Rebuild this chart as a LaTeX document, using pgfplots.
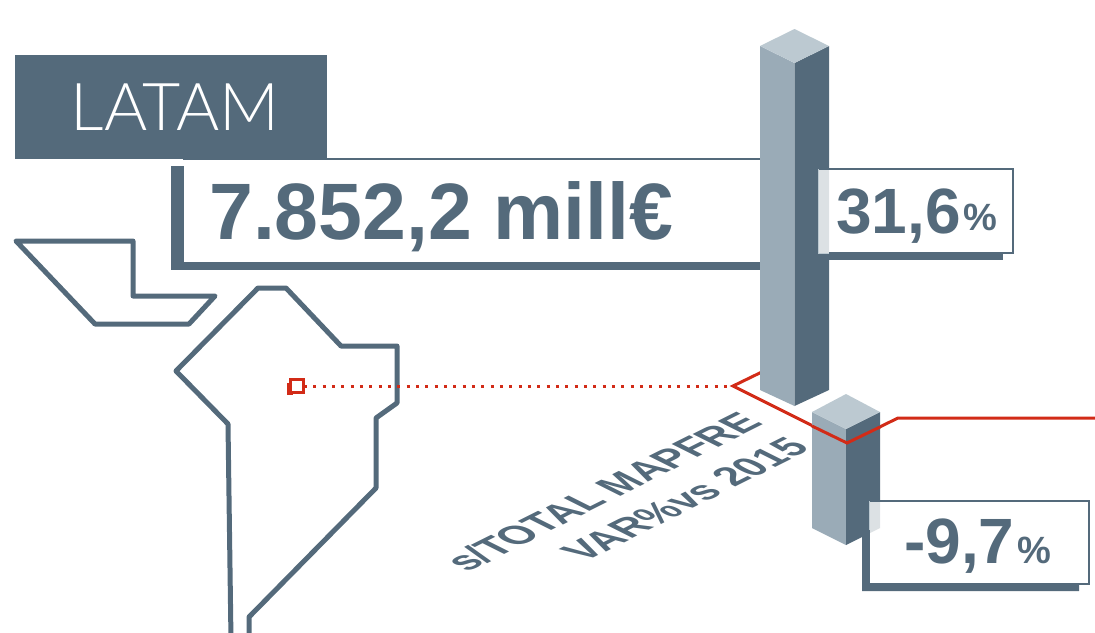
\documentclass[border=0pt]{standalone}
\usepackage{fontspec}
\setmainfont{Liberation Sans}
\newfontfamily\lightf{Lato Light}
\usepackage{pgfplots}
\pgfplotsset{compat=1.18}
\definecolor{dark}{HTML}{546A7B}
\definecolor{mid}{HTML}{9AABB7}
\definecolor{top}{HTML}{BCC9D1}
\definecolor{redl}{HTML}{D22B17}
\begin{document}
\begin{tikzpicture}
\begin{axis}[
    name=ax,
    hide axis,
    scale only axis,
    width=1095pt, height=632pt,
    xmin=0, xmax=1095,
    ymin=0, ymax=632,
    y dir=reverse,
    clip=true,
]
% map outlines
\addplot[draw=dark, line width=5pt, line join=round, mark=none] coordinates {
    (16,241)(133,241)(133,296)(215,296)(189,324)(95,324)(16,241)} --cycle;
\addplot[draw=dark, line width=5pt, line join=round, mark=none] coordinates {
    (231,640)(228,424)(176,371)(258,288)(286,288)(341,346)(397,346)(397,403)(376,418)(376,488)(249,617)(249,640)};
% value box
\addplot[fill=dark, draw=none, mark=none] coordinates {(171,166)(762,166)(762,270)(171,270)} --cycle;
\addplot[fill=white, draw=none, mark=none] coordinates {(184,160)(762,160)(762,262)(184,262)} --cycle;
\addplot[draw=dark, line width=2.8pt, mark=none] coordinates {(183,159)(762,159)};
\addplot[fill=dark, draw=none, mark=none] coordinates {(15,55)(327,55)(327,159)(15,159)} --cycle;
% red leader behind the tall bar
\addplot[draw=redl, line width=3pt, dash pattern=on 3pt off 6.33pt, mark=none] coordinates {(304,386)(731,386)};
\addplot[draw=redl, line width=3pt, line join=miter, mark=none] coordinates {(770,368)(733,386)(847,443)(898,418)(1095,418)};
% marker
\addplot[fill=redl, draw=none, mark=none] coordinates {(287,383)(293,383)(293,394.5)(287,394.5)} --cycle;
\addplot[fill=white, draw=redl, line width=3pt, mark=none] coordinates {(290,379.5)(303,379.5)(303,392.5)(290,392.5)} --cycle;
% shadows of the small boxes
\addplot[fill=dark, draw=none, mark=none] coordinates {(825,253)(1003,253)(1003,260)(825,260)} --cycle;
\addplot[fill=dark, draw=none, mark=none] coordinates {(862,530)(869,530)(869,584)(1079,584)(1079,591)(862,591)} --cycle;
% tall bar
\addplot[fill=mid, draw=none, mark=none] coordinates {(760,46)(794.5,63)(794.5,406)(760,390)} --cycle;
\addplot[fill=dark, draw=none, mark=none] coordinates {(794.5,63)(829,46)(829,390)(794.5,406)} --cycle;
\addplot[fill=top, draw=none, mark=none] coordinates {(794.5,29)(829,46)(794.5,63)(760,46)} --cycle;
% short bar
\addplot[fill=mid, draw=none, mark=none] coordinates {(812,412)(846,429)(846,545)(812,528)} --cycle;
\addplot[fill=dark, draw=none, mark=none] coordinates {(846,429)(880,412)(880,528)(846,545)} --cycle;
\addplot[fill=top, draw=none, mark=none] coordinates {(846,394)(880,412)(846,429)(812,412)} --cycle;
\addplot[draw=redl, line width=3pt, mark=none] coordinates {(812,426)(847,443)(880,427)};
% small boxes
\addplot[fill=white, fill opacity=0.8, draw=none, mark=none] coordinates {(818,169)(1013,169)(1013,253)(818,253)} --cycle;
\addplot[draw=dark, line width=2pt, mark=none] coordinates {(818,169)(1013,169)(1013,253)(829,253)};
\addplot[draw=top, line width=1pt, mark=none] coordinates {(818,169)(818,253)(829,253)};
\addplot[fill=white, fill opacity=0.8, draw=none, mark=none] coordinates {(869,501)(1089,501)(1089,584)(869,584)} --cycle;
\addplot[draw=dark, line width=2pt, mark=none] coordinates {(869,501)(1089,501)(1089,584)(869,584)(869,530)};
\addplot[draw=top, line width=1pt, mark=none] coordinates {(869,530)(869,501)};

\node[anchor=base west, inner sep=0pt, text=white, font=\lightf\fontsize{66}{66}\selectfont] at (axis cs:70.5,130) {LATAM};
\node[anchor=base west, inner sep=0pt, text=dark, font=\bfseries\fontsize{80}{80}\selectfont] at (axis cs:209,239) {\scalebox{0.985}[1]{7.852,2 mill€}};
\node[anchor=base west, inner sep=0pt, text=dark, font=\bfseries\fontsize{64}{64}\selectfont] at (axis cs:836,233) {31,6};
\node[anchor=base west, inner sep=0pt, text=dark, font=\bfseries\fontsize{38}{38}\selectfont] at (axis cs:963,230) {\%};
\node[anchor=base west, inner sep=0pt, text=dark, font=\bfseries\fontsize{64}{64}\selectfont] at (axis cs:904,563) {-9,7};
\node[anchor=base west, inner sep=0pt, text=dark, font=\bfseries\fontsize{38}{38}\selectfont] at (axis cs:1017,563) {\%};
\node[anchor=base east, inner sep=0pt, text=dark, font=\bfseries\fontsize{34}{34}\selectfont, cm={1.02,0.51,-1.1,0.55,(0,0)}] at (axis cs:765,424) {s/TOTAL MAPFRE};
\node[anchor=base east, inner sep=0pt, text=dark, font=\bfseries\fontsize{34}{34}\selectfont, cm={1.02,0.51,-1.1,0.55,(0,0)}] at (axis cs:812,449) {VAR\%vs 2015};
\end{axis}
\pgfresetboundingbox
\path[use as bounding box] (ax.south west) rectangle (ax.north east);
\end{tikzpicture}
\end{document}
